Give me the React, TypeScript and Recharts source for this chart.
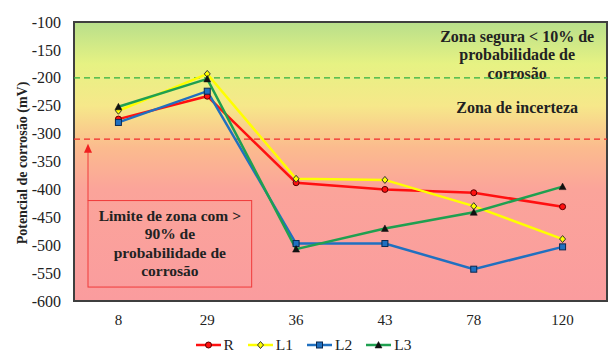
import React from 'react';
import { LineChart, Line, XAxis, YAxis, CartesianGrid, ReferenceLine, ReferenceArea, Legend } from 'recharts';

const categories = ['8', '29', '36', '43', '78', '120'];
const seriesR = [-274, -233, -388, -400, -406, -431];
const seriesL1 = [-259, -193, -381, -383, -430, -489];
const seriesL2 = [-280, -224, -497, -497, -543, -503];
const seriesL3 = [-252, -202, -507, -470, -441, -395];
const yTicks = [-100, -150, -200, -250, -300, -350, -400, -450, -500, -550, -600];

const seriesNames = ['R', 'L1', 'L2', 'L3'];
const seriesColors = ['#ff1010', '#ffff00', '#2070c0', '#1fa050'];

const data = categories.map((c, i) => ({
  cat: c,
  R: seriesR[i],
  L1: seriesL1[i],
  L2: seriesL2[i],
  L3: seriesL3[i],
}));

const FONT = 'Liberation Serif, Times New Roman, serif';

const Marker = ({ kind, cx, cy, color }: any) => {
  if (cx == null || cy == null) return null;
  if (kind === 'R') return <circle cx={cx} cy={cy} r={3} fill={color} stroke="#5a0000" strokeWidth={1} />;
  if (kind === 'L1')
    return (
      <path d={`M${cx},${cy - 3.5} L${cx + 3},${cy} L${cx},${cy + 3.5} L${cx - 3},${cy} Z`} fill={color} stroke="#333" strokeWidth={1} />
    );
  if (kind === 'L2') return <rect x={cx - 3} y={cy - 3} width={6} height={6} fill={color} stroke="#0b2850" strokeWidth={1} />;
  return <path d={`M${cx},${cy - 3.5} L${cx + 3.5},${cy + 3} L${cx - 3.5},${cy + 3} Z`} fill="#111" stroke="#111" strokeWidth={0.5} />;
};

const makeDot = (kind: string, color: string) => (props: any) => (
  <Marker key={`${kind}-${props.index}`} kind={kind} cx={props.cx} cy={props.cy} color={color} />
);

const ANN_SIZE = 16;

const ZoneText = (props: any) => {
  const { x, y, width } = props;
  const cx = x + width / 2 - 1;
  const lines = ['Zona segura < 10% de', 'probabilidade de', 'corrosão'];
  const offs = [14, 32.5, 51];
  return (
    <g>
      {lines.map((t, i) => (
        <text key={i} x={cx} y={y + offs[i]} textAnchor="middle" dominantBaseline="central" fontFamily={FONT} fontWeight={700} fontSize={ANN_SIZE} fill="#222">{t}</text>
      ))}
      <text x={cx} y={y + 85} textAnchor="middle" dominantBaseline="central" fontFamily={FONT} fontWeight={700} fontSize={ANN_SIZE} fill="#222">Zona de incerteza</text>
    </g>
  );
};

const BOX_TOP = -420;
const BOX_BOTTOM = -575;
const ARROW_TIP = -318;

const LimitBox = (props: any) => {
  const { x, y, width, height } = props;
  const left = x + 14;
  const right = x + width;
  const ppu = height / (BOX_TOP - BOX_BOTTOM);
  const tipY = y - (ARROW_TIP - BOX_TOP) * ppu;
  const cx = (left + right) / 2;
  const lines = ['Limite de zona com >', '90% de', 'probabilidade de', 'corrosão'];
  const offs = [14.5, 33, 51.5, 70];
  return (
    <g>
      <rect x={left} y={y} width={right - left} height={height} fill="none" stroke="#f03a3a" strokeWidth={1} />
      <line x1={left} y1={y} x2={left} y2={tipY + 8} stroke="#f03a3a" strokeWidth={1} />
      <path d={`M${left},${tipY} L${left + 4},${tipY + 9} L${left - 4},${tipY + 9} Z`} fill="#f02020" />
      {lines.map((t, i) => (
        <text key={i} x={cx} y={y + offs[i]} textAnchor="middle" dominantBaseline="central" fontFamily={FONT} fontWeight={700} fontSize={15.5} fill="#222">{t}</text>
      ))}
    </g>
  );
};

const LegendContent = () => (
  <div style={{ display: 'flex', justifyContent: 'center', alignItems: 'center', height: 20, paddingTop: 8, fontFamily: FONT, fontSize: 15.5, color: '#222', gap: 14 }}>
    {seriesNames.map((n, i) => (
      <div key={n} style={{ display: 'flex', alignItems: 'center' }}>
        <svg width={25} height={10} style={{ marginRight: 3 }}>
          <line x1={0} y1={5} x2={25} y2={5} stroke={seriesColors[i]} strokeWidth={2.5} />
          <Marker kind={n} cx={12.5} cy={5} color={seriesColors[i]} />
        </svg>
        <span>{n}</span>
      </div>
    ))}
  </div>
);

const YLabel = () => {
  const cx = 22;
  const cy = 163;
  return (
    <text x={cx} y={cy} transform={`rotate(-90, ${cx}, ${cy})`} textAnchor="middle" dominantBaseline="central"
      fontFamily={FONT} fontWeight={700} fontSize={14} fill="#222">
      Potencial de corrosão (mV)
    </text>
  );
};

export default function App() {
  return (
    <div style={{ position: 'absolute', left: 0, top: 0, width: 612, height: 355, background: '#fff' }}>
      <LineChart width={612} height={355} data={data} margin={{ top: 22, right: 5, bottom: 0, left: 0 }}>
        <defs>
          <linearGradient id="bgGrad" x1="0" y1="0" x2="0" y2="1">
            <stop offset="0%" stopColor="#b8df8b" />
            <stop offset="15%" stopColor="#e6f283" />
            <stop offset="30%" stopColor="#f6e88a" />
            <stop offset="45%" stopColor="#fbbb8e" />
            <stop offset="60%" stopColor="#fba49a" />
            <stop offset="100%" stopColor="#fa9c9e" />
          </linearGradient>
        </defs>
        <CartesianGrid fill="url(#bgGrad)" horizontal={false} vertical={false} stroke="none" />
        <XAxis dataKey="cat" scale="band" axisLine={false} tickLine={false} tickMargin={7} height={26}
          tick={{ fontFamily: FONT, fontSize: 15, fill: '#222' }} interval={0} />
        <YAxis domain={[-600, -100]} ticks={yTicks} axisLine={false} tickLine={false} tickMargin={7} width={74}
          tick={{ fontFamily: FONT, fontSize: 16, fill: '#222' }} interval={0} label={<YLabel />} />
        <ReferenceLine y={-200} stroke="#2fb040" strokeWidth={1.3} strokeDasharray="6 4" />
        <ReferenceLine y={-310} stroke="#f02a2a" strokeWidth={1.3} strokeDasharray="6 4" />
        <ReferenceArea x1="78" x2="120" y1={-100} y2={-310} fill="none" shape={ZoneText} />
        <ReferenceArea x1="8" x2="29" y1={BOX_TOP} y2={BOX_BOTTOM} fill="none" shape={LimitBox} />
        <ReferenceArea y1={-600} y2={-100} fill="none" stroke="#3f3f3f" strokeWidth={2} />
        {seriesNames.map((n, i) => (
          <Line key={n} type="linear" dataKey={n} stroke={seriesColors[i]} strokeWidth={2.5}
            dot={makeDot(n, seriesColors[i])} activeDot={false} isAnimationActive={false} />
        ))}
        <Legend verticalAlign="bottom" content={<LegendContent />} />
      </LineChart>
    </div>
  );
}
